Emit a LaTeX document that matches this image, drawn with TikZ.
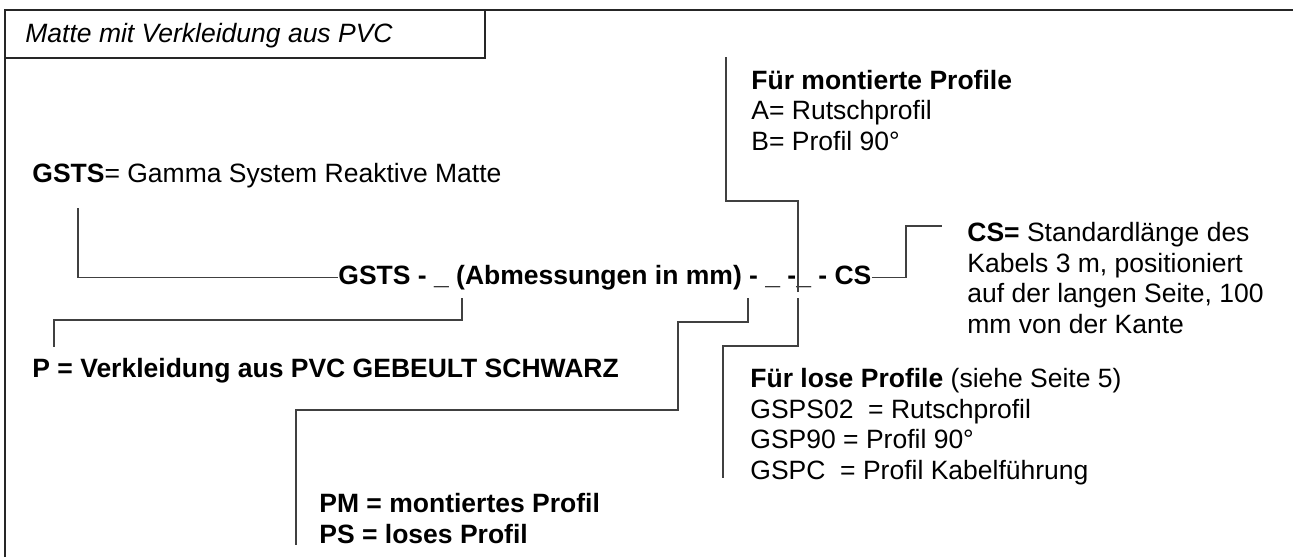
\documentclass[tikz,border=0pt]{standalone}
\usepackage{fontspec}
\setmainfont{Liberation Sans}
\begin{document}
\begin{tikzpicture}[x=0.5pt, y=-0.5pt,
        txt/.style={inner sep=0pt, anchor=base west, align=left, font=\fontsize{13.25}{15.25}\selectfont},
        conn/.style={draw=black!75, line width=0.6pt},
        frame/.style={draw=black!85, line width=1pt}]
            \useasboundingbox (0,0) rectangle (1293,557);
            \draw[frame] (5,557) -- (5,10) -- (1293,10);
            \draw[frame] (5,10) rectangle (485,58);

            % base of a block of lines = baseline of its last line
            \node[txt, font=\fontsize{13.25}{15.25}\selectfont\itshape] (title) at (25,42) {Matte mit Verkleidung aus PVC};
            \node[txt] (gsts) at (32,182) {\textbf{GSTS}= Gamma System Reaktive Matte};
            \node[txt, font=\fontsize{13.25}{15.25}\selectfont\bfseries] (code) at (338,284) {GSTS - \_ (Abmessungen in mm) - \_ -\_ - CS};
            \node[txt, font=\fontsize{13.25}{15.25}\selectfont\bfseries] (pvc) at (32,377) {P = Verkleidung aus PVC GEBEULT SCHWARZ};
            \node[txt, font=\fontsize{13.25}{15.25}\selectfont\bfseries] (pmps) at (319,543) {PM = montiertes Profil\\PS = loses Profil};
            \node[txt] (mont) at (751,150) {\textbf{Für montierte Profile}\\A= Rutschprofil\\B= Profil 90°};
            \node[txt] (lose) at (750,479) {\textbf{Für lose Profile} (siehe Seite 5)\\GSPS02~ = Rutschprofil\\GSP90 = Profil 90°\\GSPC~ = Profil Kabelführung};
            \node[txt] (cs) at (967,333) {\textbf{CS=} Standardlänge des\\Kabels 3 m, positioniert\\auf der langen Seite, 100\\mm von der Kante};

            % ends of the connectors
            \coordinate (g1) at (78,208);
            \coordinate (p1) at (462,298);
            \coordinate (p2) at (54,347);
            \coordinate (m1) at (748,298);
            \coordinate (m2) at (296,545);
            \coordinate (l1) at (798,298);
            \coordinate (l2) at (723,478);
            \coordinate (t1) at (798,292);
            \coordinate (t2) at (726,57);
            \coordinate (c1) at (906,226);
            \coordinate (c2) at (942,226);

            \draw[conn] (g1) |- (code.west);
            \draw[conn] (p1) -- ++(0,22) -| (p2);
            \draw[conn] (m1) -- ++(0,24) -| (678,410) -| (m2);
            \draw[conn] (l1) -- ++(0,48) -| (l2);
            \draw[conn] (t1) -- ++(0,-91) -| (t2);
            \draw[conn] (code.east) -| (c1) -- (c2);
        \end{tikzpicture}
\end{document}
